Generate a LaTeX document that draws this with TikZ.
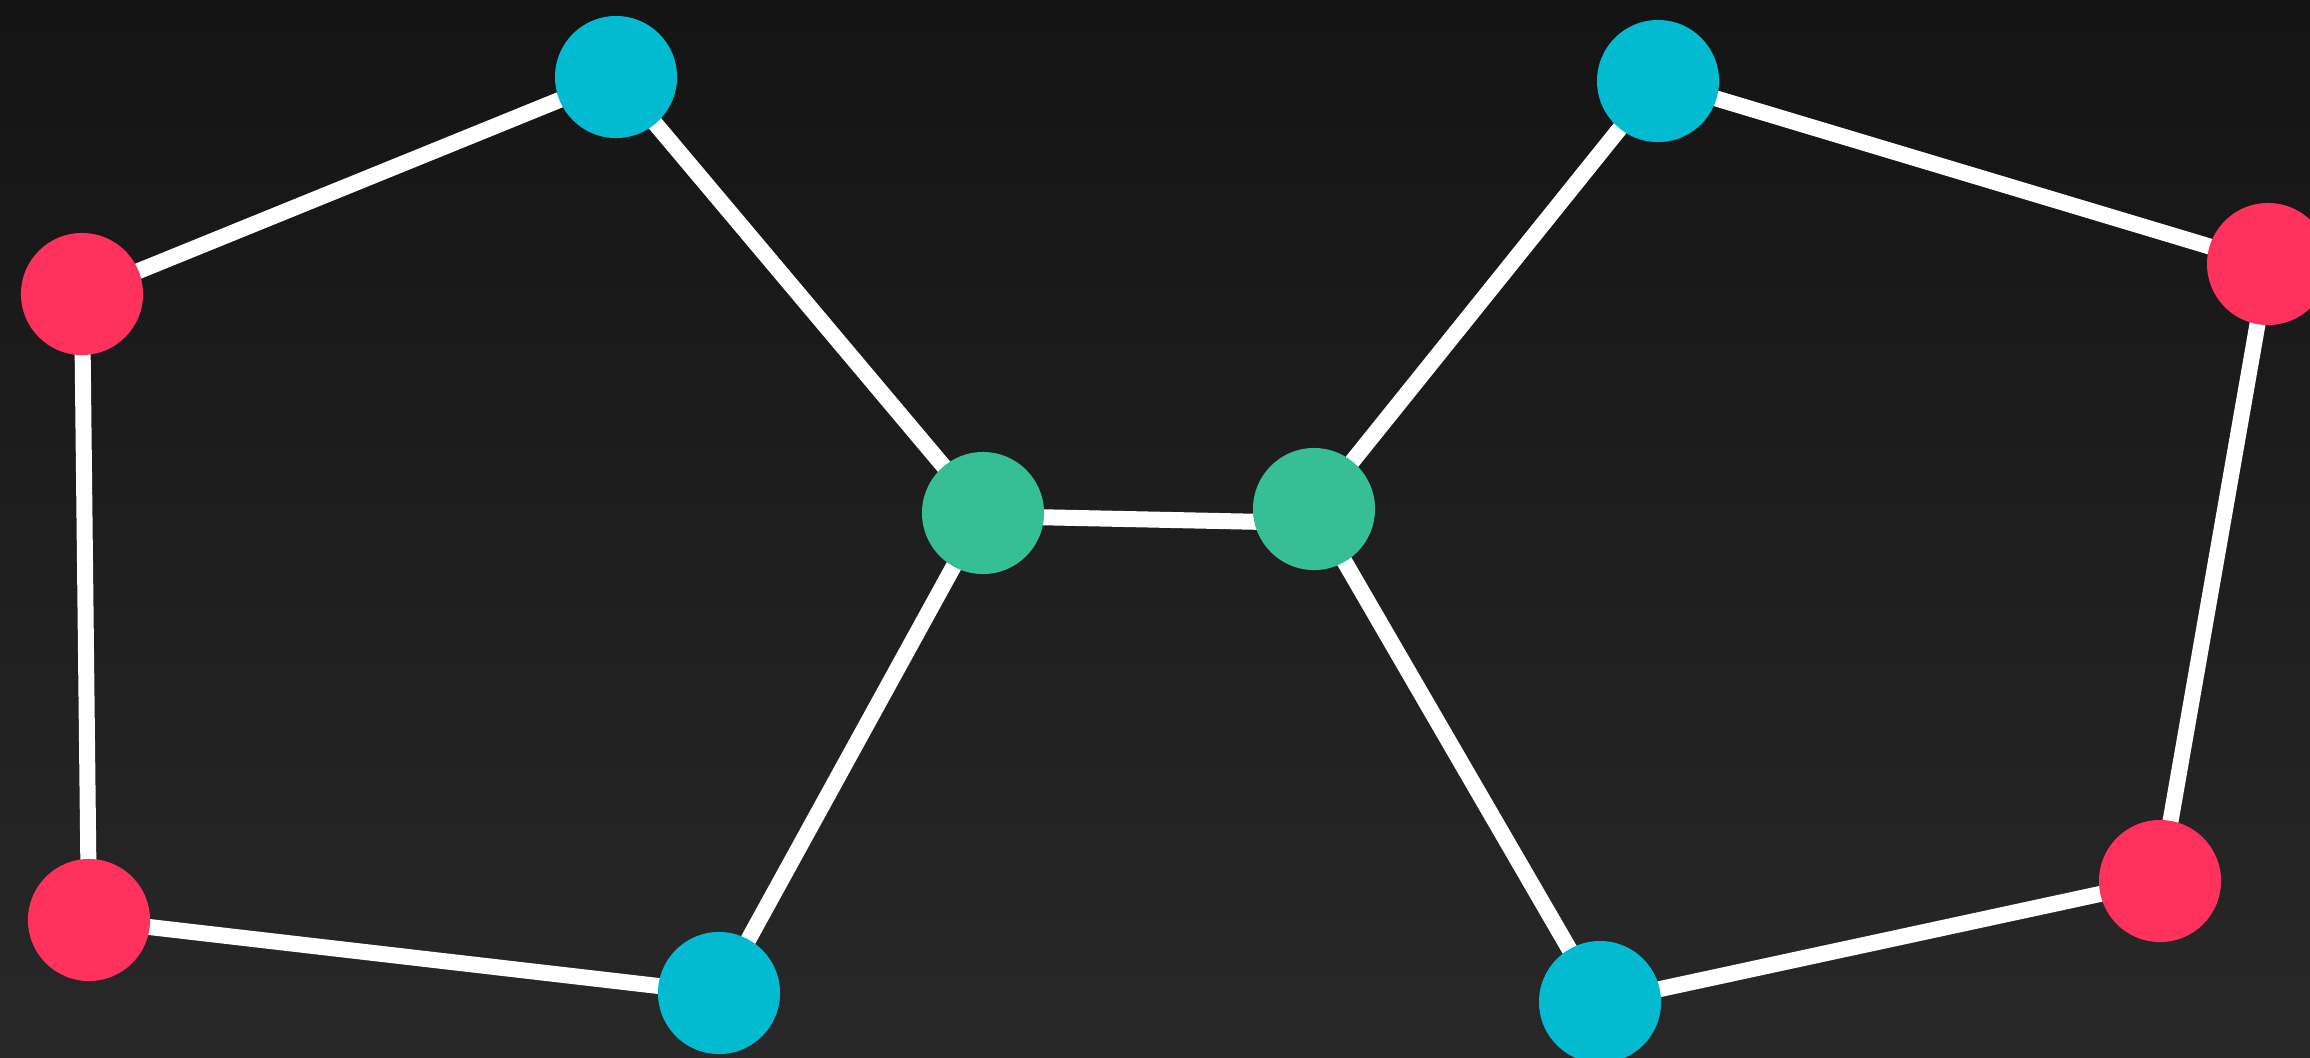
\documentclass[tikz,border=0pt]{standalone}
\definecolor{nodecyan}{HTML}{03BBD1}
\definecolor{nodered}{HTML}{FF325E}
\definecolor{nodegreen}{HTML}{36BF94}
\definecolor{bgtop}{HTML}{141414}
\definecolor{bgbottom}{HTML}{282828}
\tikzset{
  dot/.style={circle, inner sep=0pt, minimum size=1.22cm},
  cdot/.style={dot, fill=nodecyan},
  rdot/.style={dot, fill=nodered},
  gdot/.style={dot, fill=nodegreen},
  edge/.style={draw=white, line width=0.16cm}
}
\begin{document}
\begin{tikzpicture}[x=0.01cm,y=-0.01cm]
\useasboundingbox (0,0) rectangle (2310,1057);
\clip (0,0) rectangle (2310,1057);
\shade[top color=bgtop, bottom color=bgbottom] (0,0) rectangle (2310,1057);
% centre points
\coordinate (pc1) at (616,77);
\coordinate (pr1) at (82,294);
\coordinate (pr2) at (89,920);
\coordinate (pc2) at (719,993);
\coordinate (pg1) at (983,513);
\coordinate (pg2) at (1314,509);
\coordinate (pc3) at (1658,81);
\coordinate (pr3) at (2268,264);
\coordinate (pr4) at (2160,881);
\coordinate (pc4) at (1600,1002);
\coordinate (pg1r) at (983,516);
\coordinate (pg2l) at (1314,523);
% connectors
\draw[edge] (pr1) -- (pc1);
\draw[edge] (pc1) -- (pg1);
\draw[edge] (pg1) -- (pc2);
\draw[edge] (pc2) -- (pr2);
\draw[edge] (pr2) -- (pr1);
\draw[edge] (pg1r) -- (pg2l);
\draw[edge] (pg2) -- (pc3);
\draw[edge] (pc3) -- (pr3);
\draw[edge] (pr3) -- (pr4);
\draw[edge] (pr4) -- (pc4);
\draw[edge] (pc4) -- (pg2);
% nodes
\node[cdot] (c1) at (pc1) {};
\node[rdot] (r1) at (pr1) {};
\node[rdot] (r2) at (pr2) {};
\node[cdot] (c2) at (pc2) {};
\node[gdot] (g1) at (pg1) {};
\node[gdot] (g2) at (pg2) {};
\node[cdot] (c3) at (pc3) {};
\node[rdot] (r3) at (pr3) {};
\node[rdot] (r4) at (pr4) {};
\node[cdot] (c4) at (pc4) {};
\end{tikzpicture}
\end{document}
